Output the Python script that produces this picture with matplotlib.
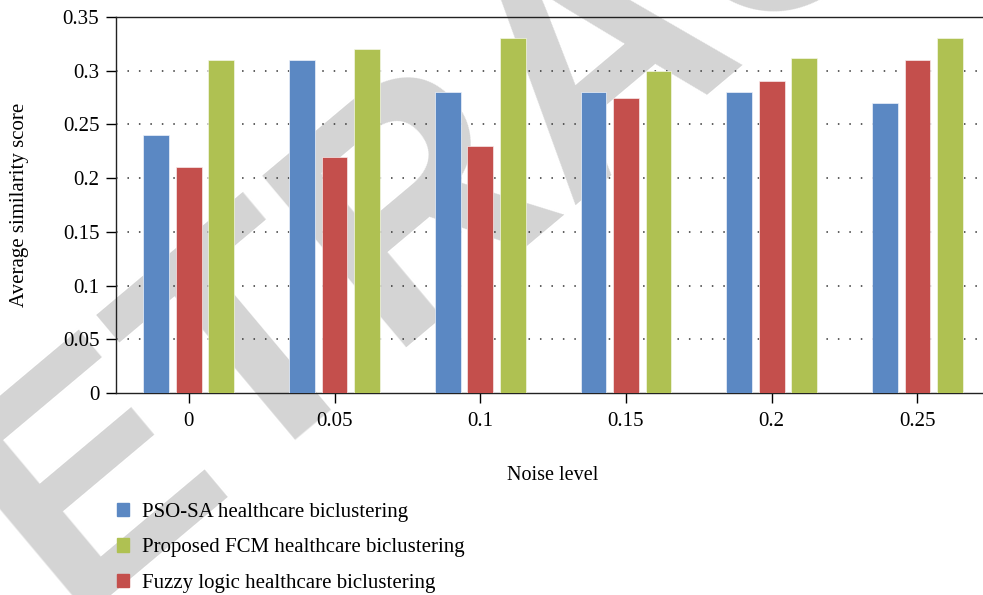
import matplotlib
matplotlib.use("Agg")
import matplotlib.pyplot as plt
import numpy as np
from matplotlib.patches import Patch

# data
noise = ['0', '0.05', '0.1', '0.15', '0.2', '0.25']
pso_sa = [0.24, 0.31, 0.28, 0.28, 0.28, 0.27]
fuzzy = [0.21, 0.22, 0.23, 0.275, 0.29, 0.31]
fcm = [0.31, 0.32, 0.33, 0.30, 0.312, 0.33]
yticks = [0, 0.05, 0.1, 0.15, 0.2, 0.25, 0.3, 0.35]
ytick_labels = ['0', '0.05', '0.1', '0.15', '0.2', '0.25', '0.3', '0.35']

c_blue = '#5B88C3'
c_red = '#C44F4C'
c_green = '#AFC152'

plt.rcParams['font.family'] = ['Liberation Serif', 'DejaVu Serif']

fig = plt.figure(figsize=(9.83, 5.95), dpi=100)
# retraction watermark, drawn behind the axes
fig.text(655/983, 1-121/595, 'RETRACTED', rotation=40, rotation_mode='anchor',
         fontsize=234, color='#d4d4d4', ha='center', va='baseline', fontweight='bold',
         family=['Liberation Sans', 'DejaVu Sans'], zorder=-1)

ax = fig.add_axes([116/983, 1-393/595, 1-116/983, (393-17)/595])
ax.patch.set_alpha(0)

x = np.arange(len(noise))
off = 0.223
w = 0.177
ax.bar(x - off, pso_sa, w, color=c_blue, edgecolor='#eef2fa', linewidth=0.5, zorder=3)
ax.bar(x, fuzzy, w, color=c_red, edgecolor='#f7eaea', linewidth=0.5, zorder=3)
ax.bar(x + off, fcm, w, color=c_green, edgecolor='#f3f6e6', linewidth=0.5, zorder=3)

ax.set_xlim(-0.5, 5.45)
ax.set_ylim(0, 0.35)
ax.set_xticks(x)
ax.set_xticklabels(noise, fontsize=15)
ax.set_yticks(yticks)
ax.set_yticklabels(ytick_labels, fontsize=15)
for yv in yticks[1:-1]:
    ax.axhline(yv, color='#333333', linestyle=(0, (1, 6.5)), linewidth=1.1, zorder=2)

ax.spines['right'].set_visible(False)
for s in ['top', 'bottom', 'left']:
    ax.spines[s].set_color('#222222')
    ax.spines[s].set_linewidth(1.0)
ax.tick_params(axis='x', direction='out', length=7, width=1, pad=7)
ax.tick_params(axis='y', direction='out', length=7, width=1, pad=5)

ax.set_xlabel('Noise level', fontsize=14.5)
ax.set_ylabel('Average similarity score', fontsize=15)
ax.xaxis.set_label_coords((553-116)/(983-116), -(466-393)/376)
ax.yaxis.set_label_coords(-(116-29)/867, 0.5)

handles = [Patch(color=c_blue), Patch(color=c_green), Patch(color=c_red)]
labels = ['PSO-SA healthcare biclustering', 'Proposed FCM healthcare biclustering',
          'Fuzzy logic healthcare biclustering']
fig.legend(handles, labels, loc='upper left', bbox_to_anchor=(98/983, 1-484/595),
           frameon=False, fontsize=15, handlelength=0.6, handleheight=0.6,
           handletextpad=0.62, labelspacing=0.8)

fig.savefig('out.png', dpi=100)
